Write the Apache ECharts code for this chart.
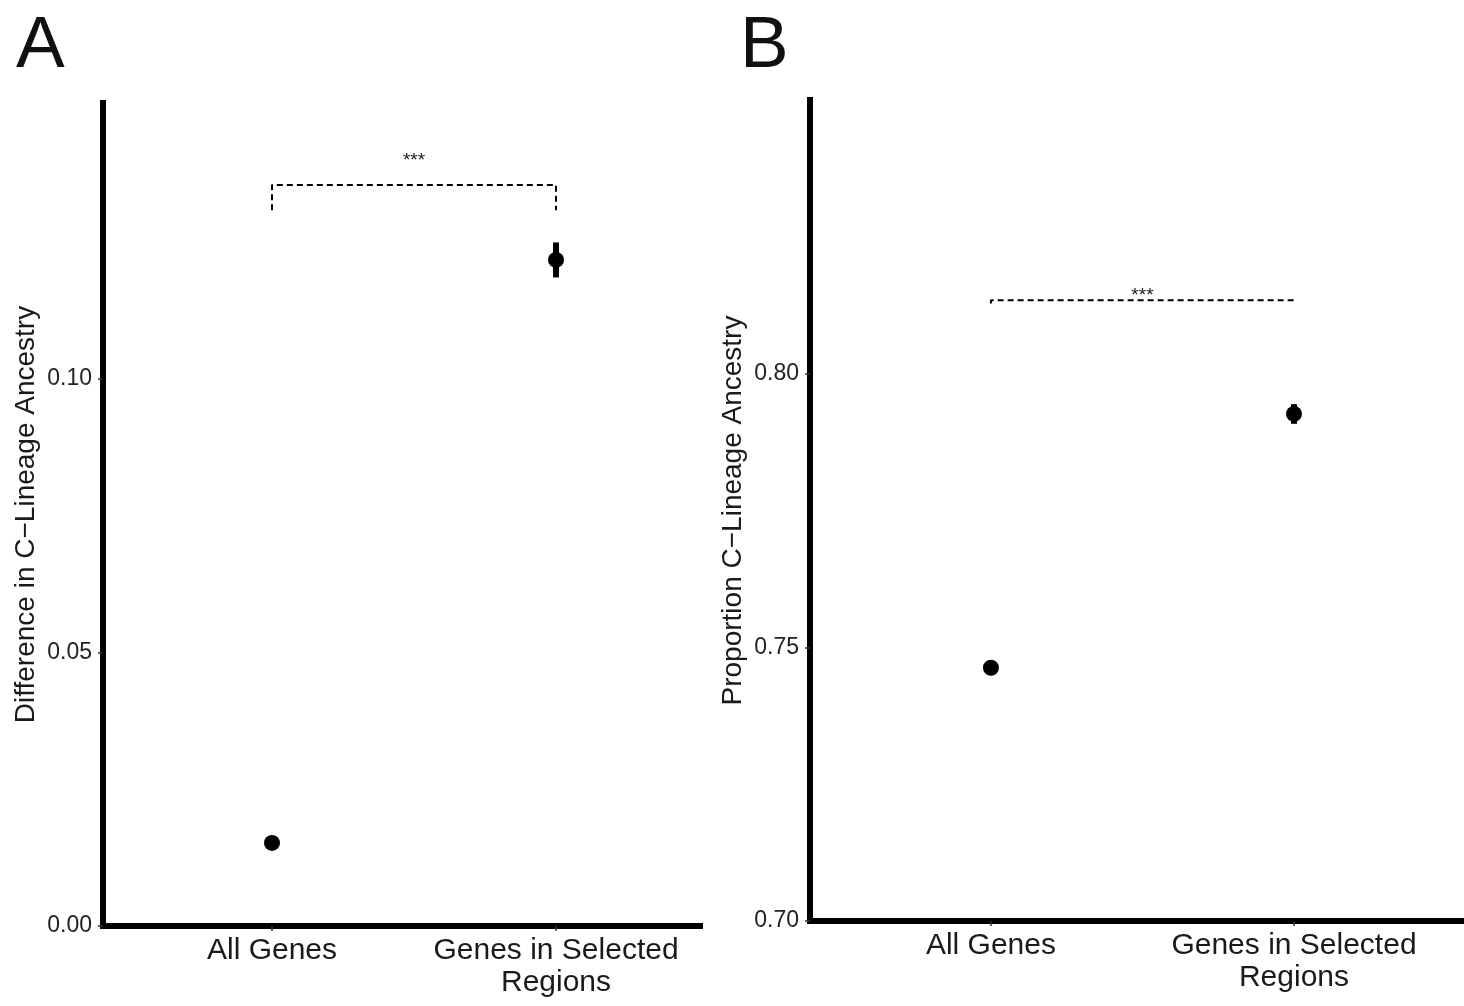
<!DOCTYPE html>
<html>
<head>
<meta charset="utf-8">
<script src="https://cdn.jsdelivr.net/npm/echarts@6/dist/echarts.min.js"></script>
<style>
html,body{margin:0;padding:0;background:#fff;}
#chart{width:1464px;height:1006px;}
</style>
</head>
<body>
<div id="chart"></div>
<script>
// ---------- data ----------
const categories = ['All Genes', 'Genes in Selected\nRegions'];
const categoryPos = [1, 2];

// Panel A: Difference in C-Lineage Ancestry
const diffMean  = [0.0152, 0.1218];
const diffLower = [0.0149, 0.1186];
const diffUpper = [0.0155, 0.1250];
const diffTicks = [0.00, 0.05, 0.10];
const diffBracket = { low: 0.1309, high: 0.1355, star: 0.1399 };

// Panel B: Proportion C-Lineage Ancestry
const propMean  = [0.7463, 0.7927];
const propLower = [0.7461, 0.7909];
const propUpper = [0.7465, 0.7945];
const propTicks = [0.70, 0.75, 0.80];
const propBracket = { low: 0.8129, high: 0.8135, star: 0.8143 };

const sigLabel = '***';

// ---------- helpers ----------
const FONT = "'Liberation Sans', Arial, Helvetica, sans-serif";

function pts(means) { return categoryPos.map((x, i) => [x, means[i]]); }
function bars(lo, hi) { return categoryPos.map((x, i) => [x, lo[i], hi[i]]); }
function bracket(b) {
  return [[categoryPos[0], b.low], [categoryPos[0], b.high], [categoryPos[1], b.high], [categoryPos[1], b.low]];
}

function xAxisFor(gi, min, max) {
  return {
    gridIndex: gi, type: 'value', min: min, max: max,
    axisLine: { show: true, onZero: false, lineStyle: { color: '#000', width: 6, cap: 'square' } },
    axisTick: { show: true, customValues: categoryPos, length: 5, lineStyle: { color: '#333', width: 1.5 } },
    axisLabel: {
      customValues: categoryPos,
      formatter: v => categories[categoryPos.indexOf(Math.round(v))] || '',
      fontSize: 30, color: '#1a1a1a', fontFamily: FONT, margin: 9, lineHeight: 32, align: 'center'
    },
    splitLine: { show: false }
  };
}
function yAxisFor(gi, min, max, ticks, name) {
  return {
    gridIndex: gi, type: 'value', min: min, max: max,
    name: name, nameLocation: 'middle', nameRotate: 90, nameGap: 63,
    nameTextStyle: { fontSize: 28, color: '#1a1a1a', fontFamily: FONT },
    axisLine: { show: true, onZero: false, lineStyle: { color: '#000', width: 6, cap: 'square' } },
    axisTick: { show: true, customValues: ticks, length: 5, lineStyle: { color: '#333', width: 1.5 } },
    axisLabel: {
      customValues: ticks, formatter: v => v.toFixed(2),
      fontSize: 23, color: '#222', fontFamily: FONT, margin: 11
    },
    splitLine: { show: false }
  };
}
function errorSeries(gi, data) {
  return {
    type: 'custom', xAxisIndex: gi, yAxisIndex: gi, data: data,
    renderItem: function (params, api) {
      const x = api.value(0);
      const a = api.coord([x, api.value(1)]);
      const b = api.coord([x, api.value(2)]);
      return { type: 'line', shape: { x1: a[0], y1: a[1], x2: b[0], y2: b[1] },
               style: { stroke: '#000', lineWidth: 6 } };
    },
    silent: true
  };
}
function starSeries(gi, y) {
  return {
    type: 'custom', xAxisIndex: gi, yAxisIndex: gi,
    data: [[(categoryPos[0] + categoryPos[1]) / 2, y]],
    renderItem: function (params, api) {
      const p = api.coord([api.value(0), api.value(1)]);
      return { type: 'text', x: p[0], y: p[1],
               style: { text: sigLabel, fontSize: 19, fill: '#222', fontFamily: FONT,
                        align: 'center', verticalAlign: 'middle' } };
    },
    silent: true
  };
}
function pointSeries(gi, data) {
  return { type: 'scatter', xAxisIndex: gi, yAxisIndex: gi, data: data,
           symbol: 'circle', symbolSize: 16, itemStyle: { color: '#000', opacity: 1 }, silent: true };
}
function bracketSeries(gi, data) {
  return { type: 'line', xAxisIndex: gi, yAxisIndex: gi, data: data, showSymbol: false,
           lineStyle: { color: '#000', width: 2, type: [6, 4] }, silent: true, animation: false };
}

const chart = echarts.init(document.getElementById('chart'), null, { renderer: 'canvas' });
chart.setOption({
  animation: false,
  backgroundColor: '#fff',
  grid: [
    { left: 103, top: 103, width: 597, height: 823 },
    { left: 810, top: 100, width: 654, height: 821 }
  ],
  xAxis: [ xAxisFor(0, 0.405, 2.507), xAxisFor(1, 0.403, 2.561) ],
  yAxis: [
    yAxisFor(0, 0, 0.1505, diffTicks, 'Difference in C\u2212Lineage Ancestry'),
    yAxisFor(1, 0.70, 0.8501, propTicks, 'Proportion C\u2212Lineage Ancestry')
  ],
  graphic: [
    { type: 'text', left: 16, top: 10, style: { text: 'A', fontSize: 73, fill: '#111', fontFamily: FONT } },
    { type: 'text', left: 740, top: 10, style: { text: 'B', fontSize: 73, fill: '#111', fontFamily: FONT } }
  ],
  series: [
    bracketSeries(0, bracket(diffBracket)),
    starSeries(0, diffBracket.star),
    errorSeries(0, bars(diffLower, diffUpper)),
    pointSeries(0, pts(diffMean)),
    bracketSeries(1, bracket(propBracket)),
    starSeries(1, propBracket.star),
    errorSeries(1, bars(propLower, propUpper)),
    pointSeries(1, pts(propMean))
  ]
});
</script>
</body>
</html>
